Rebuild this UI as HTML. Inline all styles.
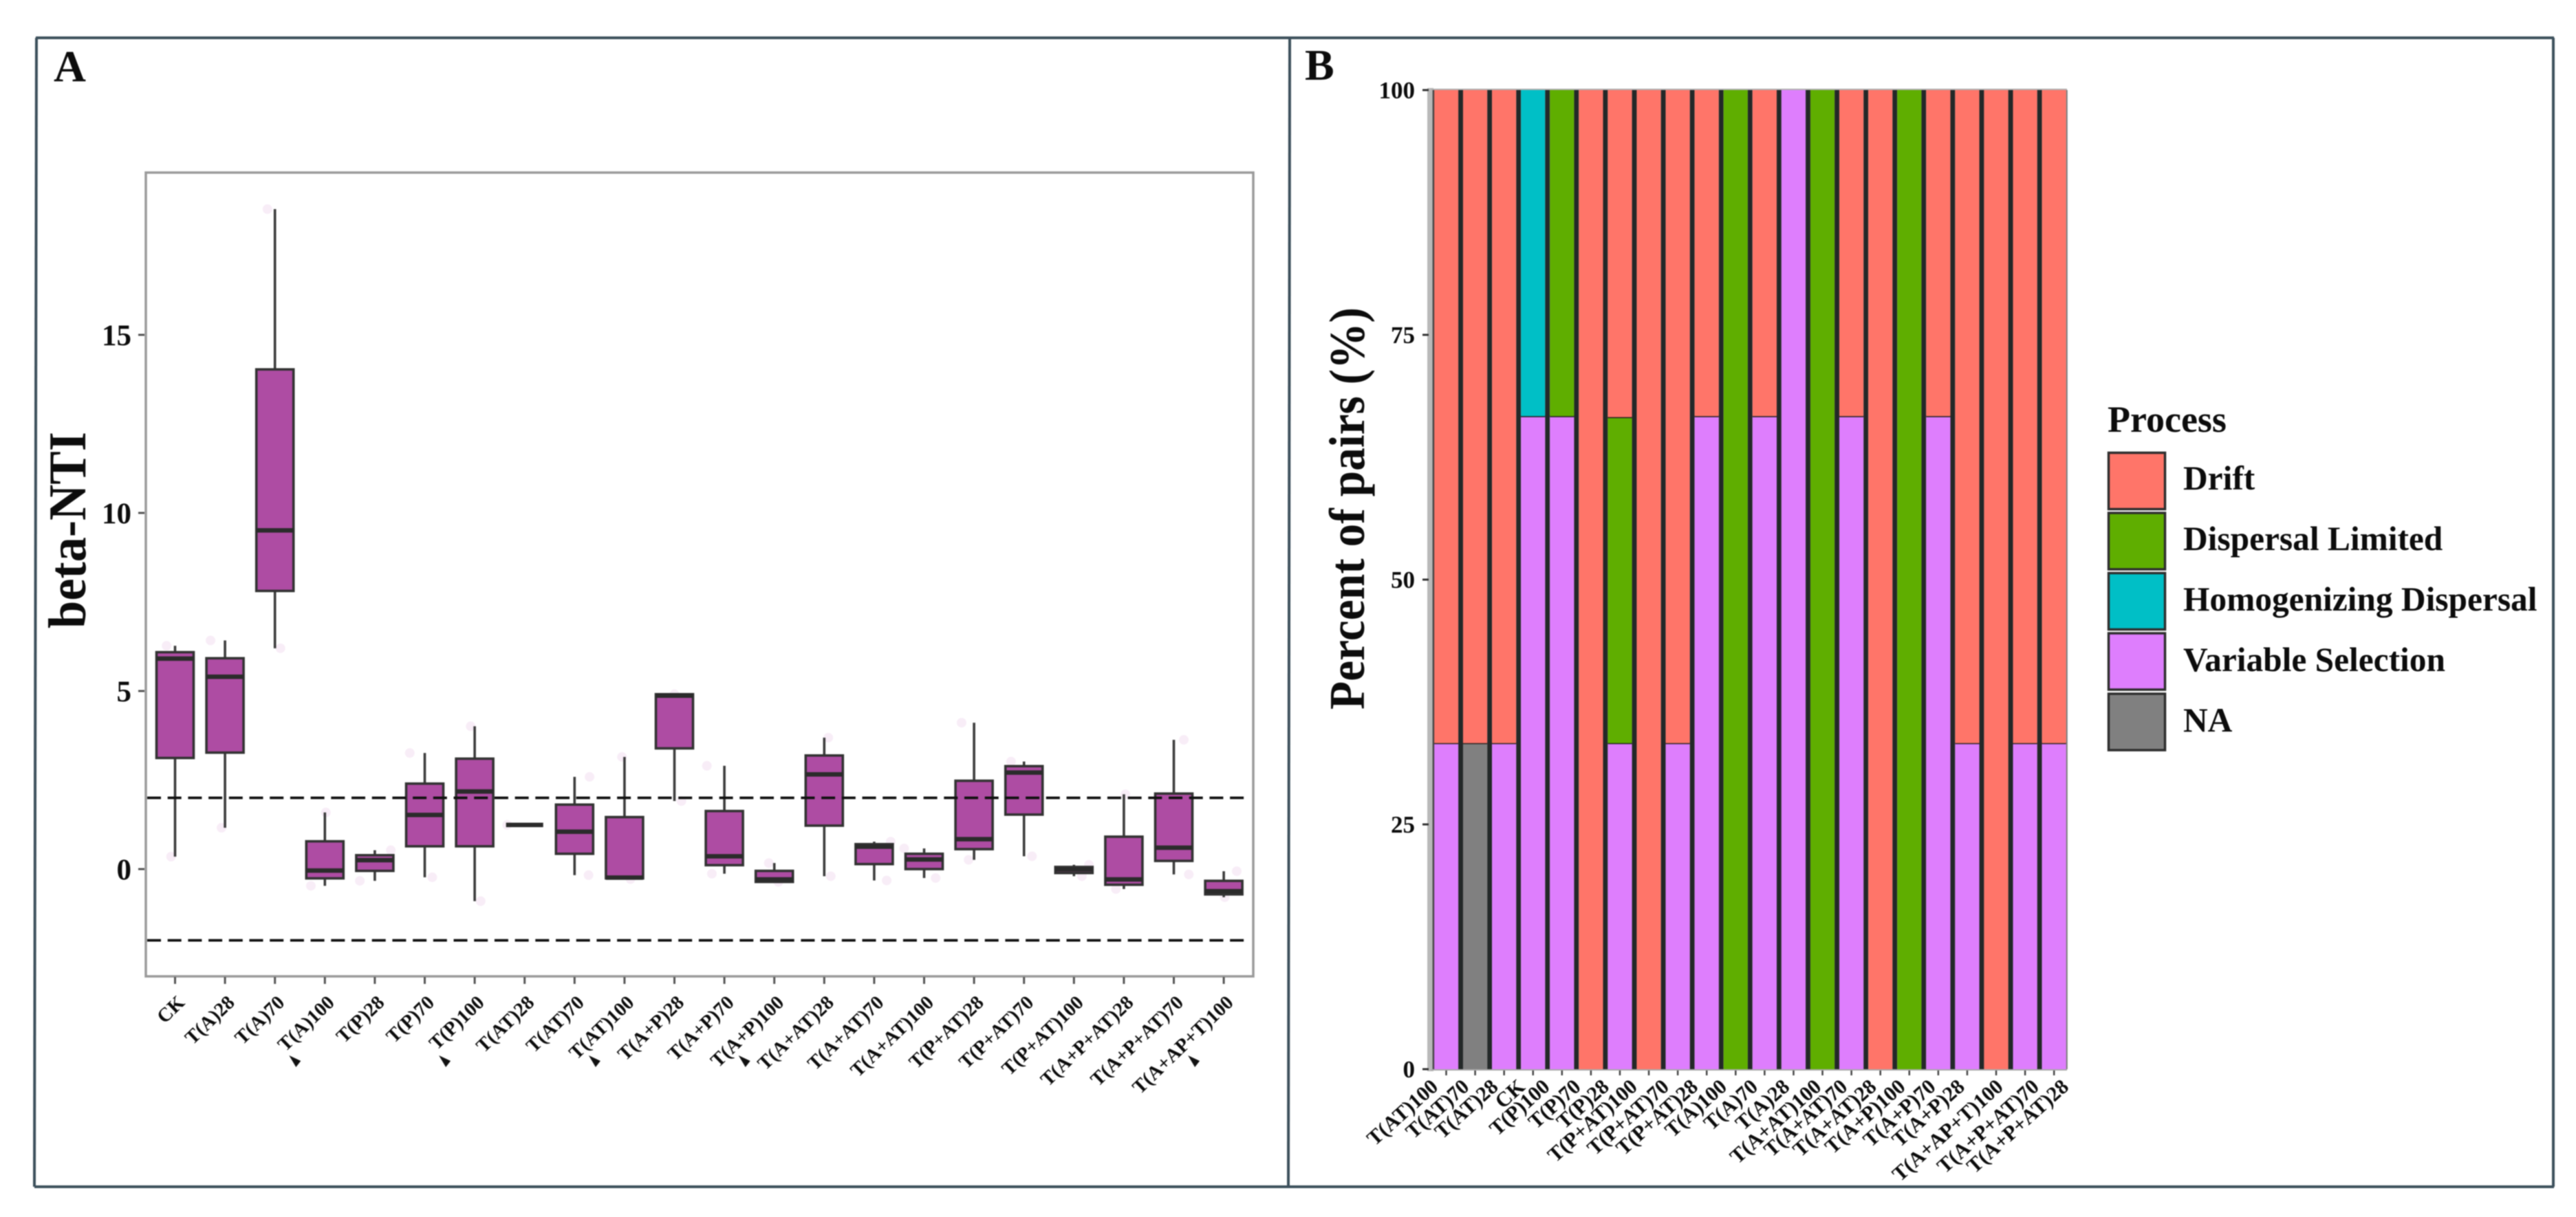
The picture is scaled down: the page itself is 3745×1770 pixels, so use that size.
<!DOCTYPE html>
<html lang="en">
<head>
<meta charset="utf-8">
<title>beta-NTI and assembly processes</title>
<style>
html,body{margin:0;padding:0;background:#fff;width:3745px;height:1770px;overflow:hidden}
svg{display:block;filter:blur(0.7px)}
text{font-family:"Liberation Serif",serif;font-weight:bold;fill:#0c0c0c}
</style>
</head>
<body>
<svg id="figure" xmlns="http://www.w3.org/2000/svg" width="3745" height="1770" viewBox="0 0 3745 1770">
  <rect x="0" y="0" width="3745" height="1770" fill="#ffffff"/>
  <g stroke="#3d505c" stroke-width="4" fill="none">
    <line x1="52" y1="55" x2="3713" y2="55"/>
    <line x1="50" y1="1726" x2="3713" y2="1726"/>
    <line x1="53" y1="55" x2="50" y2="1726"/>
    <line x1="3712" y1="55" x2="3712" y2="1726"/>
    <line x1="1875" y1="55" x2="1873" y2="1726"/>
  </g>
  <text x="78" y="118" font-size="65">A</text>
  <text x="1897" y="116" font-size="64">B</text>

  <rect x="212" y="251" width="1610" height="1169" fill="#ffffff" stroke="#9a9a9a" stroke-width="3.5"/>
  <g id="boxplot"></g>
  <text transform="translate(124 771) rotate(-90)" text-anchor="middle" font-size="77" textLength="286" lengthAdjust="spacingAndGlyphs">beta-NTI</text>

  <g id="stacked"></g>
  <text transform="translate(1983 739.5) rotate(-90)" text-anchor="middle" font-size="73" textLength="585" lengthAdjust="spacingAndGlyphs">Percent of pairs (%)</text>

  <g>
    <text x="3064" y="628" font-size="54">Process</text>
    <g>
      <rect x="3065.5" y="658.5" width="82" height="82" fill="#ff7569" stroke="#2e2e2e" stroke-width="3.5"/>
      <text x="3174" y="712" font-size="49.4">Drift</text>
    </g>
    <g>
      <rect x="3065.5" y="746" width="82" height="82" fill="#5fae00" stroke="#2e2e2e" stroke-width="3.5"/>
      <text x="3174" y="800" font-size="49.4">Dispersal Limited</text>
    </g>
    <g>
      <rect x="3065.5" y="833.5" width="82" height="82" fill="#00bfc6" stroke="#2e2e2e" stroke-width="3.5"/>
      <text x="3174" y="888" font-size="49.4">Homogenizing Dispersal</text>
    </g>
    <g>
      <rect x="3065.5" y="921" width="82" height="82" fill="#de7efd" stroke="#2e2e2e" stroke-width="3.5"/>
      <text x="3174" y="976" font-size="49.4">Variable Selection</text>
    </g>
    <g>
      <rect x="3065.5" y="1009" width="82" height="82" fill="#808080" stroke="#2e2e2e" stroke-width="3.5"/>
      <text x="3174" y="1064" font-size="49.4">NA</text>
    </g>
  </g>
</svg>

<script>
/* ---------- Panel A data ---------- */
const boxCategories = ["CK","T(A)28","T(A)70","T(A)100","T(P)28","T(P)70","T(P)100","T(AT)28","T(AT)70","T(AT)100","T(A+P)28","T(A+P)70","T(A+P)100","T(A+AT)28","T(A+AT)70","T(A+AT)100","T(P+AT)28","T(P+AT)70","T(P+AT)100","T(A+P+AT)28","T(A+P+AT)70","T(A+AP+T)100"];
const whiskerHigh = [6.27,6.42,18.53,1.59,0.53,3.26,4.01,1.24,2.59,3.15,4.91,2.90,0.17,3.69,0.77,0.58,4.11,3.02,0.12,2.10,3.63,-0.06];
const quartile3 = [6.09,5.92,14.03,0.78,0.39,2.40,3.10,1.24,1.81,1.46,4.91,1.63,-0.05,3.19,0.70,0.43,2.48,2.89,0.06,0.91,2.12,-0.33];
const medians = [5.91,5.40,9.51,-0.04,0.25,1.52,2.18,1.24,1.05,-0.24,4.87,0.36,-0.29,2.66,0.63,0.27,0.84,2.71,-0.01,-0.29,0.60,-0.62];
const quartile1 = [3.12,3.27,7.81,-0.26,-0.05,0.64,0.64,1.24,0.43,-0.26,3.39,0.11,-0.36,1.22,0.14,0.00,0.56,1.53,-0.11,-0.44,0.23,-0.71];
const whiskerLow = [0.35,1.16,6.20,-0.47,-0.33,-0.23,-0.90,1.24,-0.17,-0.28,1.91,-0.13,-0.36,-0.20,-0.32,-0.25,0.26,0.36,-0.20,-0.56,-0.15,-0.79];
const jitterHigh = [-0.17,-0.29,-0.15,0.02,0.32,-0.30,-0.08,-0.35,0.30,-0.05,0,-0.35,-0.11,0.08,0.33,-0.40,-0.25,-0.26,0.30,0.03,0.20,0.26];
const jitterLow = [-0.08,-0.07,0.11,-0.28,-0.30,0.15,0.12,-0.35,0.28,0.12,0.14,-0.25,0.08,0.13,0.25,0.23,-0.11,0.16,0.16,-0.16,0.30,0.02];
const boxYTicks = [0,5,10,15];
const referenceLines = [2,-2];

/* ---------- Panel B data ---------- */
const barCategories = ["T(AT)100","T(AT)70","T(AT)28","CK","T(P)100","T(P)70","T(P)28","T(P+AT)100","T(P+AT)70","T(P+AT)28","T(A)100","T(A)70","T(A)28","T(A+AT)100","T(A+AT)70","T(A+AT)28","T(A+P)100","T(A+P)70","T(A+P)28","T(A+AP+T)100","T(A+P+AT)70","T(A+P+AT)28"];
const driftPercent = [66.7,66.7,66.7,0,0,100,33.4,100,66.7,33.3,0,33.3,0,0,33.3,100,0,33.3,66.7,100,66.7,66.7];
const dispersalLimitedPercent = [0,0,0,0,33.3,0,33.3,0,0,0,100,0,0,100,0,0,100,0,0,0,0,0];
const homogenizingPercent = [0,0,0,33.3,0,0,0,0,0,0,0,0,0,0,0,0,0,0,0,0,0,0];
const variableSelectionPercent = [33.3,0,33.3,66.7,66.7,0,33.3,0,33.3,66.7,0,66.7,100,0,66.7,0,0,66.7,33.3,0,33.3,33.3];
const naPercent = [0,33.3,0,0,0,0,0,0,0,0,0,0,0,0,0,0,0,0,0,0,0,0];
const barYTicks = [0,25,50,75,100];

/* ---------- Scales ---------- */
function boxX(i){ return 254.5 + i * 72.6; }
function boxY(v){ return 1264 - v * 51.8; }
function barX(i){ return 2102.5 + i * 42.08; }
function barY(v){ return 1555 - v * 14.24; }

const SVGNS = "http://www.w3.org/2000/svg";
function make(parent, tag, attrs, txt){
  const el = document.createElementNS(SVGNS, tag);
  for (const k in attrs) el.setAttribute(k, attrs[k]);
  if (txt !== undefined) el.textContent = txt;
  parent.appendChild(el);
  return el;
}
function slug(s){ return s.toLowerCase().replace(/[^a-z0-9]+/g,'-').replace(/^-|-$/g,''); }

/* ---------- Panel A drawing ---------- */
const boxRoot = document.getElementById('boxplot');

boxYTicks.forEach(function(t){
  const tick = make(boxRoot,'line',{x1:201,x2:210,y1:boxY(t),y2:boxY(t),stroke:'#555',"stroke-width":3});
  
  
  const lab = make(boxRoot,'text',{x:191,y:boxY(t)+15,"text-anchor":'end',"font-size":43},String(t));
  
  
});

const labelledArtifacts = ["T(A)100","T(P)100","T(AT)100","T(A+P)100","T(A+AP+T)100"];

boxCategories.forEach(function(cat,i){
  const x = boxX(i);
  const tick = make(boxRoot,'line',{x1:x,x2:x,y1:1421,y2:1431,stroke:'#555',"stroke-width":3});
  
  
  const lab = make(boxRoot,'text',{transform:'translate('+(x+15.5)+' 1460) rotate(-44)',"text-anchor":'end',"font-size":28.5},cat);
  
  

  const p1 = make(boxRoot,'circle',{cx:x+jitterHigh[i]*72.6,cy:boxY(whiskerHigh[i]),r:7,fill:'#f8edf7'});
  
  
  const p2 = make(boxRoot,'circle',{cx:x+jitterLow[i]*72.6,cy:boxY(whiskerLow[i]),r:7,fill:'#f8edf7'});
  
  

  const wh = make(boxRoot,'line',{x1:x,x2:x,y1:boxY(whiskerHigh[i]),y2:boxY(quartile3[i]),stroke:'#3c3c3c',"stroke-width":3.6});
  
  
  const wl = make(boxRoot,'line',{x1:x,x2:x,y1:boxY(quartile1[i]),y2:boxY(whiskerLow[i]),stroke:'#3c3c3c',"stroke-width":3.6});
  
  
  const box = make(boxRoot,'rect',{x:x-27,y:boxY(quartile3[i]),width:54,height:boxY(quartile1[i])-boxY(quartile3[i]),fill:'#ae4ca3',stroke:'#333',"stroke-width":3.6});
  
  
  const med = make(boxRoot,'line',{x1:x-27,x2:x+27,y1:boxY(medians[i]),y2:boxY(medians[i]),stroke:'#2b2b2b',"stroke-width":6.5});
  
  

  if (labelledArtifacts.indexOf(cat) >= 0){
    const mark = make(boxRoot,'polygon',{points:(x-52)+',1535 '+(x-35)+',1543 '+(x-42)+',1552',fill:'#111'});
    
    
  }
});

referenceLines.forEach(function(v){
  const ref = make(boxRoot,'line',{x1:214,x2:1816,y1:boxY(v),y2:boxY(v),stroke:'#111',"stroke-width":3.8,"stroke-dasharray":'20 9.7'});
  
  
});

/* ---------- Panel B drawing ---------- */
const barRoot = document.getElementById('stacked');
const barSeries = [
  {key:'na', values:naPercent, color:'#808080'},
  {key:'variable-selection', values:variableSelectionPercent, color:'#de7efd'},
  {key:'homogenizing-dispersal', values:homogenizingPercent, color:'#00bfc6'},
  {key:'dispersal-limited', values:dispersalLimitedPercent, color:'#5fae00'},
  {key:'drift', values:driftPercent, color:'#ff7569'}
];

const band = make(barRoot,'rect',{x:2075,y:barY(100)-3,width:9,height:barY(0)-barY(100)+6,fill:'#b9b9b9'});


const topEdge = make(barRoot,'line',{x1:2080,x2:3005,y1:barY(100)-1,y2:barY(100)-1,stroke:'#b0b0b0',"stroke-width":2});


const bottomEdge = make(barRoot,'line',{x1:2080,x2:3005,y1:barY(0)+1,y2:barY(0)+1,stroke:'#a9a9a9',"stroke-width":2});



barYTicks.forEach(function(t){
  const tick = make(barRoot,'line',{x1:2068,x2:2077,y1:barY(t),y2:barY(t),stroke:'#333',"stroke-width":3});
  
  
  const lab = make(barRoot,'text',{x:2057,y:barY(t)+12,"text-anchor":'end',"font-size":35},String(t));
  
  
});

const barHalf = 17.6;
/* layout only: the reference's pasted tick labels drift relative to their ticks */
const barLabelDrift = i => [-10,-7,-7,-10,-16,-13,-14,-15,-11,-11,-11,-8,-4,0,-4,-4,-4,-2,-2,12,22,23][i];

barCategories.forEach(function(cat,i){
  const x = barX(i);
  let cumulative = 0;
  barSeries.forEach(function(s){
    const v = s.values[i];
    if (v <= 0) return;
    const yTop = barY(cumulative + v);
    const yBottom = barY(cumulative);
    const seg = make(barRoot,'rect',{x:x-barHalf,y:yTop,width:barHalf*2,height:yBottom-yTop,fill:s.color});
    
    
    if (cumulative + v < 99){
      const div = make(barRoot,'line',{x1:x-barHalf,x2:x+barHalf,y1:yTop,y2:yTop,stroke:'#1e1e1e',"stroke-width":3});
      
      
    }
    cumulative += v;
  });
  const tick = make(barRoot,'line',{x1:x,x2:x,y1:1557,y2:1564,stroke:'#444',"stroke-width":2.5});
  
  
  const lab = make(barRoot,'text',{transform:'translate('+(x+barLabelDrift(i))+' 1583) rotate(-42)',"text-anchor":'end',"font-size":30.5},cat);
  
  
  if (i < barCategories.length - 1){
    const gap = make(barRoot,'line',{x1:x+21.04,x2:x+21.04,y1:barY(100),y2:barY(0),stroke:'#232828',"stroke-width":6.9});
    
    
  }
});
const firstEdge = make(barRoot,'line',{x1:barX(0)-barHalf-1,x2:barX(0)-barHalf-1,y1:barY(100),y2:barY(0),stroke:'#444',"stroke-width":2.5});


const lastEdge = make(barRoot,'line',{x1:barX(barCategories.length-1)+barHalf+1,x2:barX(barCategories.length-1)+barHalf+1,y1:barY(100),y2:barY(0),stroke:'#777',"stroke-width":2});


</script>
</body>
</html>
